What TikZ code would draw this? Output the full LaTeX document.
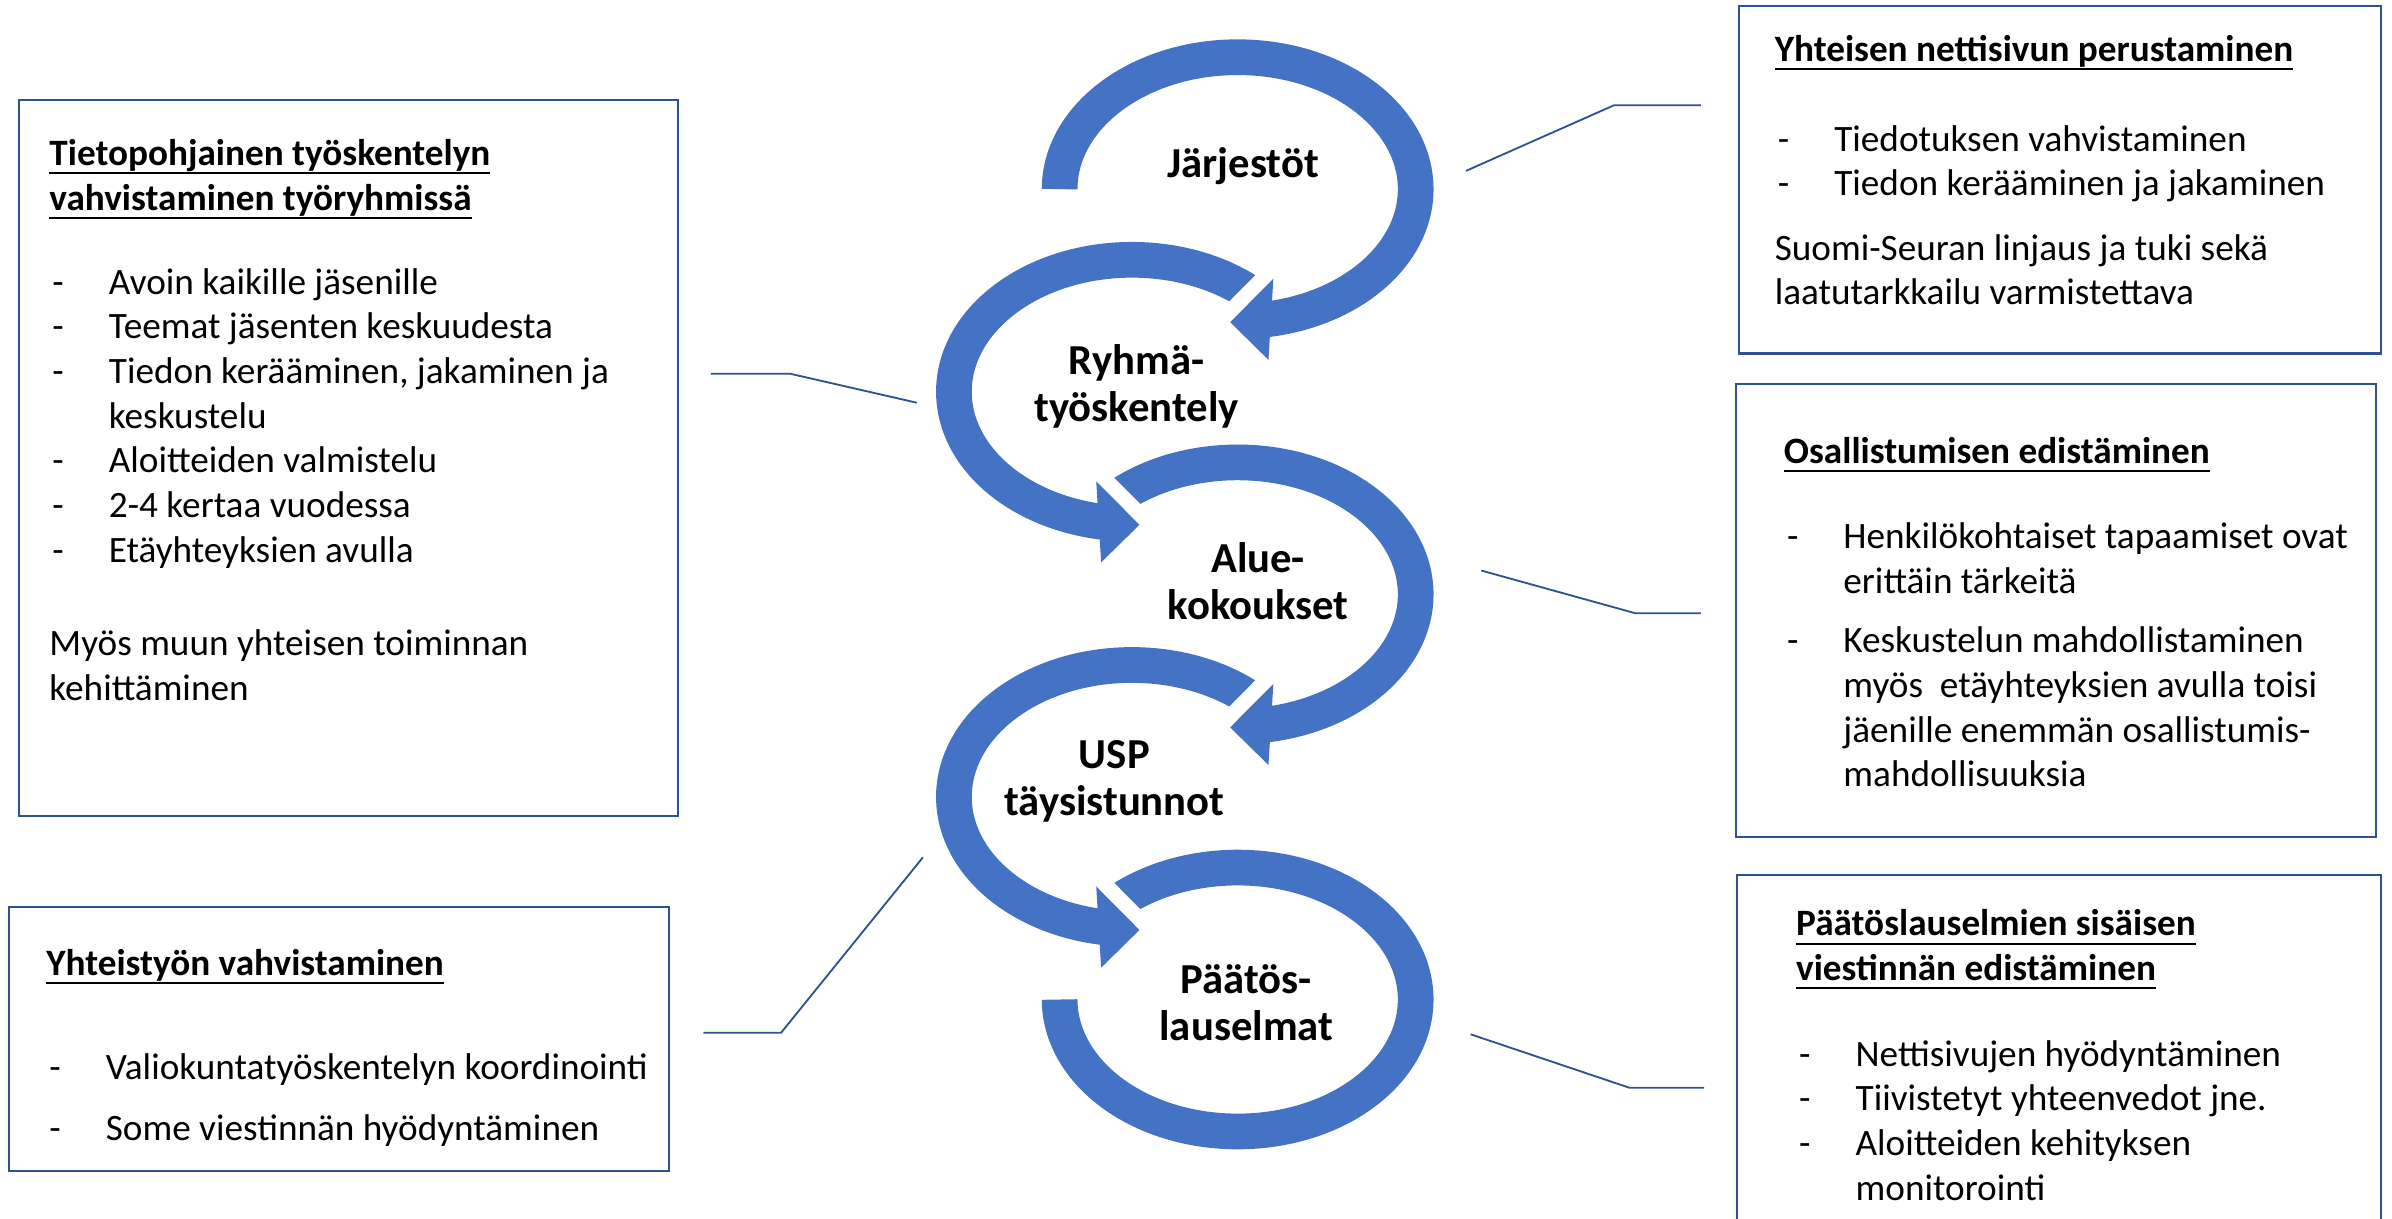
\documentclass[tikz,border=0pt]{standalone}
\usepackage{fontspec}
\setmainfont{Carlito}
\definecolor{cycleblue}{HTML}{4472C4}
\definecolor{frameblue}{HTML}{2F528F}

\newcommand\ulhead[1]{\sbox0{\bfseries #1}\rlap{\rule[-2.9pt]{\wd0}{0.7pt}}\usebox0}
\newcommand\itemdash{\makebox[19.5pt][l]{\hspace{1pt}-}}
\newcommand\itemgap{\hspace*{19.5pt}}

\begin{document}
\begin{tikzpicture}[x=0.5pt, y=0.5pt,
  loopband/.style={draw=cycleblue, line width=11.7pt},
  tiphalo/.style={draw=white, line width=10pt, line join=round},
  tipfill/.style={fill=cycleblue},
  infobox/.style={draw=frameblue, line width=0.7pt, anchor=north west, inner sep=0pt},
  boxtext/.style={anchor=north west, align=left, inner sep=0pt,
    font=\fontsize{12.2}{14.65}\selectfont, execute at begin node={\rule{0pt}{10pt}}},
  cyclelabel/.style={align=center, inner sep=0pt, font=\bfseries\fontsize{14}{15.5}\selectfont},
  connector/.style={draw=frameblue, line width=0.6pt}]

\useasboundingbox (0,0) rectangle (1568,799);

% last loop, no tip
\draw[loopband] (811.3,143.8) ++(136:116.7 and 86.5)
  arc[start angle=136, end angle=-180, x radius=116.7, y radius=86.5];

% loops with tips, bottom to top so every tip cuts the next tail
\foreach \cx/\cy/\flip/\startang in {742/276.6/-1/136, 811.3/409.4/1/136, 742/542.2/-1/136, 811.3/675/1/180}{
  \begin{scope}[shift={(\cx,\cy)}, xscale=\flip]
    \draw[tiphalo] (-4.9,-87.2) -- (23.4,-58.7) -- (20.2,-111.9) -- cycle;
    \draw[loopband] (\startang:116.7 and 86.5)
      arc[start angle=\startang, end angle=-82, x radius=116.7, y radius=86.5];
    \fill[tipfill] (-4.9,-87.2) -- (23.4,-58.7) -- (20.2,-111.9) -- cycle;
  \end{scope}
}

\node[cyclelabel] (jarj) at (815,690) {Järjestöt};
\node[cyclelabel] (ryhma) at (745,545.6) {Ryhmä-\\työskentely};
\node[cyclelabel] (alue) at (824.7,418) {Alue-\\kokoukset};
\node[cyclelabel] (usp) at (730.5,286.6) {USP\\täysistunnot};
\node[cyclelabel] (paatos) at (817,141.7) {Päätös-\\lauselmat};

% boxes
\node[infobox, minimum width=216pt, minimum height=234.5pt] (tietobox) at (12,734) {};
\node[boxtext] (tietotext) at ([xshift=10pt, yshift=-13pt]tietobox.north west) {%
  \ulhead{Tietopohjainen työskentelyn}\\
  \ulhead{vahvistaminen työryhmissä}\\[12.85pt]
  \itemdash Avoin kaikille jäsenille\\
  \itemdash Teemat jäsenten keskuudesta\\
  \itemdash Tiedon kerääminen, jakaminen ja\\
  \itemgap keskustelu\\
  \itemdash Aloitteiden valmistelu\\
  \itemdash 2-4 kertaa vuodessa\\
  \itemdash Etäyhteyksien avulla\\[15.85pt]
  Myös muun yhteisen toiminnan\\
  kehittäminen};

\node[infobox, minimum width=216.5pt, minimum height=86.5pt] (yhteisbox) at (5,205) {};
\node[boxtext] (yhteistext) at ([xshift=12.5pt, yshift=-14pt]yhteisbox.north west) {%
  \ulhead{Yhteistyön vahvistaminen}\\[19.35pt]
  \itemdash Valiokuntatyöskentelyn koordinointi\\[5.35pt]
  \itemdash Some viestinnän hyödyntäminen};

\node[infobox, minimum width=210.5pt, minimum height=114pt] (nettibox) at (1139,796) {};
\node[boxtext] (nettitext) at ([xshift=12pt, yshift=-9.8pt]nettibox.north west) {%
  \ulhead{Yhteisen nettisivun perustaminen}\\[14.85pt]
  \itemdash Tiedotuksen vahvistaminen\\
  \itemdash Tiedon kerääminen ja jakaminen\\[6.35pt]
  Suomi-Seuran linjaus ja tuki sekä\\
  laatutarkkailu varmistettava};

\node[infobox, minimum width=210pt, minimum height=148.5pt] (osallbox) at (1137,548) {};
\node[boxtext] (osalltext) at ([xshift=16pt, yshift=-17.5pt]osallbox.north west) {%
  \ulhead{Osallistumisen edistäminen}\\[13.35pt]
  \itemdash Henkilökohtaiset tapaamiset ovat\\
  \itemgap erittäin tärkeitä\\[4.85pt]
  \itemdash Keskustelun mahdollistaminen\\
  \itemgap myös\ \ etäyhteyksien avulla toisi\\
  \itemgap jäenille enemmän osallistumis-\\
  \itemgap mahdollisuuksia};

\node[infobox, minimum width=211pt, minimum height=120pt] (paatosbox) at (1138,226) {};
\node[boxtext] (paatostext) at ([xshift=19.5pt, yshift=-11.5pt]paatosbox.north west) {%
  \ulhead{Päätöslauselmien sisäisen}\\
  \ulhead{viestinnän edistäminen}\\[13.35pt]
  \itemdash Nettisivujen hyödyntäminen\\
  \itemdash Tiivistetyt yhteenvedot jne.\\
  \itemdash Aloitteiden kehityksen\\
  \itemgap monitorointi};

% connectors
\coordinate (tietoA) at (466,554);
\coordinate (tietoB) at (518,554);
\coordinate (tietoC) at (601,535);
\coordinate (yhteisA) at (461,122);
\coordinate (yhteisB) at (512,122);
\coordinate (yhteisC) at (605,237);
\coordinate (nettiA) at (961,687);
\coordinate (nettiB) at (1058,730);
\coordinate (nettiC) at (1115,730);
\coordinate (osallA) at (971,425);
\coordinate (osallB) at (1072,397);
\coordinate (osallC) at (1115,397);
\coordinate (paatosA) at (964,121);
\coordinate (paatosB) at (1068,86);
\coordinate (paatosC) at (1117,86);

\draw[connector] (tietoA) -- (tietoB) -- (tietoC);
\draw[connector] (yhteisA) -- (yhteisB) -- (yhteisC);
\draw[connector] (nettiA) -- (nettiB) -- (nettiC);
\draw[connector] (osallA) -- (osallB) -- (osallC);
\draw[connector] (paatosA) -- (paatosB) -- (paatosC);

\end{tikzpicture}
\end{document}
